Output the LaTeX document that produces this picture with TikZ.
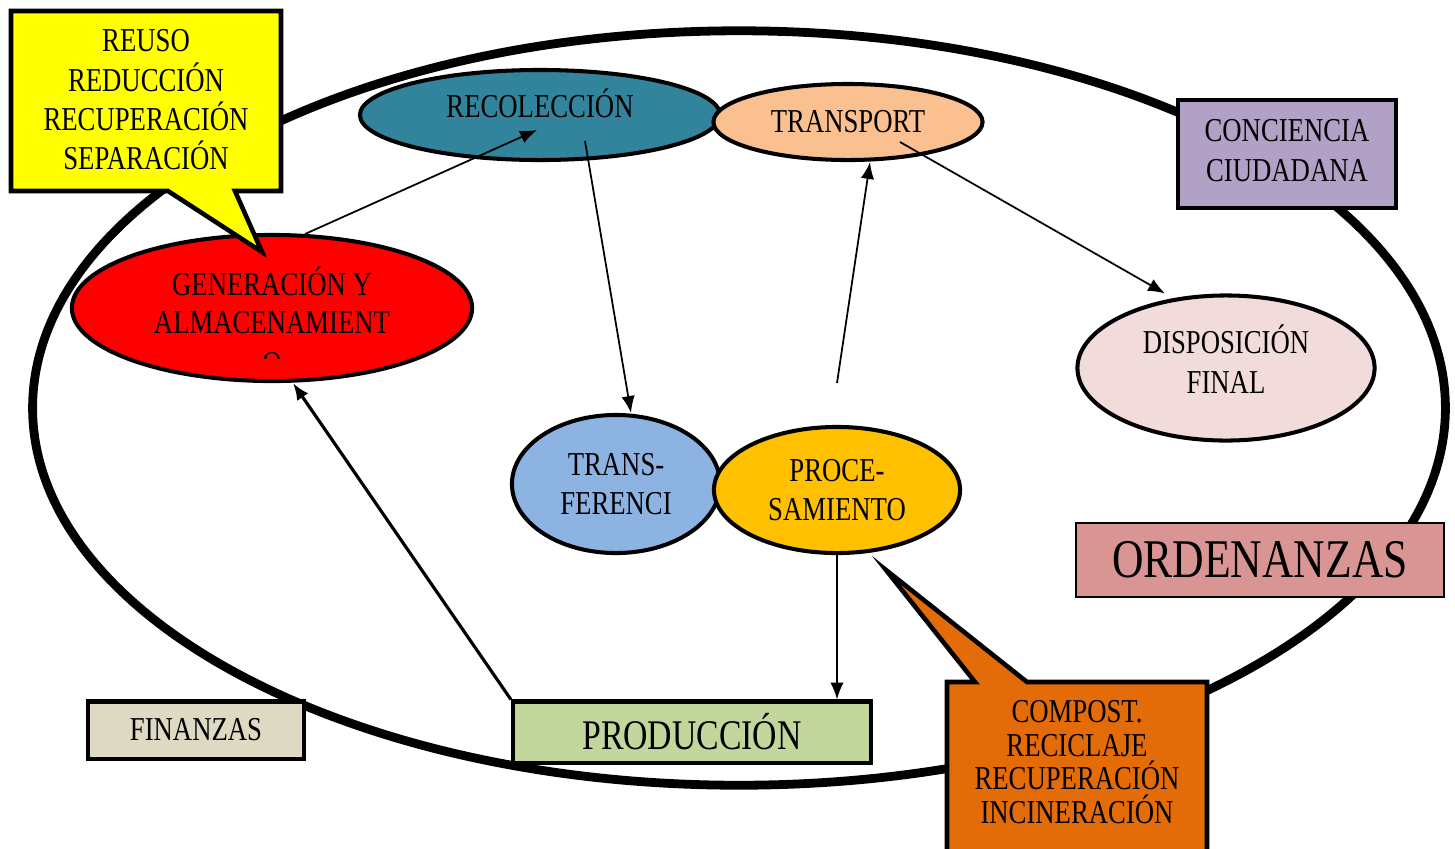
\documentclass[tikz,border=0pt]{standalone}
\usepackage{fontspec}
\setmainfont{Liberation Serif}[FakeStretch=0.8]
\usetikzlibrary{arrows.meta,calc,shapes.geometric,positioning}
\definecolor{genred}{HTML}{FF0000}
\definecolor{recteal}{HTML}{31849B}
\definecolor{trppeach}{HTML}{FAC090}
\definecolor{trfblue}{HTML}{8DB3E2}
\definecolor{progold}{HTML}{FFC000}
\definecolor{dsppink}{HTML}{F2DCDB}
\definecolor{concpurple}{HTML}{B2A1C7}
\definecolor{ordrose}{HTML}{D99594}
\definecolor{prdgreen}{HTML}{C3D69B}
\definecolor{finbeige}{HTML}{DDD9C3}
\definecolor{tipyellow}{HTML}{FFFF00}
\definecolor{tiporange}{HTML}{E36C09}
\newcommand{\lift}[2]{\raisebox{#1}[\height][\depth]{\begin{tabular}{@{}c@{}}#2\end{tabular}}}

\begin{document}
\begin{tikzpicture}[x=0.01cm, y=-0.01cm,
  bubble/.style={ellipse, draw, line width=1.15pt, inner sep=0pt, align=center,
    font=\fontsize{9.5}{11.2}\selectfont},
  panel/.style={rectangle, draw, line width=1.15pt, inner sep=0pt, align=center,
    font=\fontsize{9.5}{11.2}\selectfont},
  tiptext/.style={align=center, inner sep=0pt},
  link/.style={line width=0.5pt, -{Latex[length=4.8pt,width=3.8pt]}}]

  % Fixed bounding box
  \path[use as bounding box] (0,0) rectangle (1455,848);
  \clip (0,0) rectangle (1455,848);

  % Outer cycle
  \draw[line width=2.5pt] (739,408) ellipse [x radius=7.06cm, y radius=3.77cm];

  % Stages
  \node[bubble, fill=genred, minimum width=4.0cm, minimum height=1.46cm] (gen) at (272,308) {\lift{0.6pt}{GENERACIÓN Y\\[-0.4pt]ALMACENAMIENT}};
  \begin{scope}
    \clip (200,352) rectangle (340,358);
    \node[font=\fontsize{9.5}{11.2}\selectfont, inner sep=0pt] (genend) at (272,364) {O};
  \end{scope}
  \node[bubble, fill=recteal, minimum width=3.6cm, minimum height=0.90cm] (rec) at (540,115) {\lift{1.7pt}{RECOLECCIÓN}};
  \node[bubble, fill=trppeach, minimum width=2.69cm, minimum height=0.76cm] (trp) at (848,122) {TRANSPORT};
  \node[bubble, fill=trfblue, minimum width=2.08cm, minimum height=1.38cm] (trf) at (616,484) {TRANS-\\FERENCI};
  \node[bubble, fill=progold, minimum width=2.46cm, minimum height=1.26cm] (pro) at (837,490) {PROCE-\\SAMIENTO};
  \node[bubble, fill=dsppink, minimum width=2.97cm, minimum height=1.45cm] (dsp) at (1226,368) {\lift{0.8pt}{DISPOSICIÓN\\FINAL}};

  % Boxes
  \node[panel, fill=concpurple, minimum width=2.18cm, minimum height=1.07cm] (conc) at (1287,154) {\lift{0.1pt}{CONCIENCIA\\CIUDADANA}};
  \node[panel, fill=ordrose, line width=0.6pt, minimum width=3.67cm, minimum height=0.74cm,
    font=\fontsize{15.5}{18}\selectfont] (ord) at (1260,560) {ORDENANZAS};
  \node[panel, fill=prdgreen, minimum width=3.58cm, minimum height=0.61cm,
    font=\fontsize{12}{14}\selectfont] (prd) at (692,732) {PRODUCCIÓN};
  \node[panel, fill=finbeige, minimum width=2.16cm, minimum height=0.57cm] (fin) at (196,730) {FINANZAS};

  % Flow
  \draw[link] ($(gen.center)+(33,-74)$) -- ($(rec.center)+(-3,15)$);
  \draw[link] ($(rec.center)+(45,26)$) -- ($(trf.north)+(15,0)$);
  \draw[link] ($(pro.north)+(0,-42)$) -- ($(trp.south)+(22,0)$);
  \draw[link] ($(trp.center)+(52,20)$) -- ($(dsp.north)+(-61,0)$);
  \draw[link] (pro.south) -- (pro.south |- prd.north);
  \draw[link, line width=0.9pt] (prd.north west) -- ($(gen.south)+(21,0)$);

  % Callouts
  \filldraw[fill=tipyellow, line width=1.3pt] (11,11) -- (281,11) -- (281,191) -- (235,191)
    -- (262,252) -- (168,191) -- (11,191) -- cycle;
  \node[tiptext, font=\fontsize{9.5}{11.2}\selectfont] (rrr) at (146,100) {REUSO\\REDUCCIÓN\\RECUPERACIÓN\\SEPARACIÓN};
  \filldraw[fill=tiporange, line width=1.3pt] (947,682) -- (975,682) -- (886,570) -- (1027,682)
    -- (1207,682) -- (1207,880) -- (947,880) -- cycle;
  \node[tiptext, font=\fontsize{9.5}{9.6}\selectfont] (trt) at (1077,762) {COMPOST.\\RECICLAJE\\RECUPERACIÓN\\INCINERACIÓN};

\end{tikzpicture}
\end{document}
